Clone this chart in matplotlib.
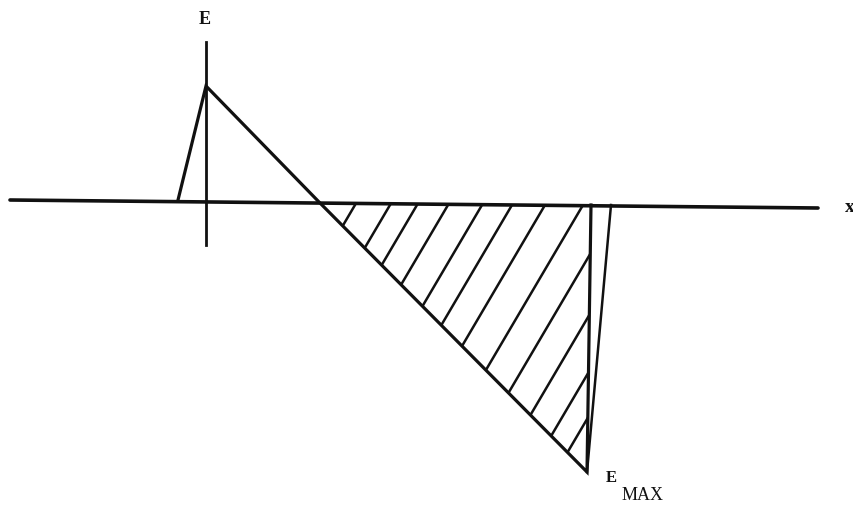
import numpy as np
import matplotlib
matplotlib.use("Agg")
import matplotlib.pyplot as plt
from matplotlib.patches import Polygon

# Diagram coordinates: x to the right, E upward, origin at the axes crossing
# horizontal (x) axis, slightly tilted as in the scan
axis_x = [-195, 613]
axis_y = [3, -5]
# vertical (E) axis
eaxis_x = [1, 1]
eaxis_y = [161, -42]

# field curve E(x)
curve_x = [-27, 1, 115, 382, 386]
curve_y = [3, 117, 0, -269, -2]
# return stroke from E_MAX back to the axis
ret_x = [382, 406]
ret_y = [-269, -2]

# hatched region (between curve and axis, from zero crossing to E_MAX)
hatch_region_x = [115, 385, 382]
hatch_region_y = [0, -2, -269]
# hatch lines: x where each line meets the axis level, and slope dE/dx
hatch_x0 = [150, 185, 212, 243, 277, 307, 340, 378, 414, 449, 482, 508]
hatch_slope = 1.7

labels = {"E": (0, 183), "x": (640, -4), "E_sub": (406, -275), "MAX": (417, -293)}

fig = plt.figure(figsize=(8.54, 5.09), dpi=100)
ax = fig.add_axes([0, 0, 1, 1])
ax.set_xlim(-205, 649)
ax.set_ylim(-306, 203)
ax.axis("off")

col = "#111111"
ax.plot(axis_x, axis_y, color=col, lw=2.6, solid_capstyle="round")
ax.plot(eaxis_x, eaxis_y, color=col, lw=2.0)
ax.plot(curve_x, curve_y, color=col, lw=2.3, solid_joinstyle="miter")
ax.plot(ret_x, ret_y, color=col, lw=1.8)

poly = Polygon(np.column_stack([hatch_region_x, hatch_region_y]), closed=True,
               fill=False, edgecolor="none")
ax.add_patch(poly)
ylo, yhi = -300, 10
for x0 in hatch_x0:
    xs = [x0 + (ylo - (-2)) / hatch_slope, x0 + (yhi - (-2)) / hatch_slope]
    ln, = ax.plot(xs, [ylo, yhi], color=col, lw=1.8)
    ln.set_clip_path(poly)

font = dict(family=["Liberation Serif", "DejaVu Serif"], color=col)
ax.text(*labels["E"], "E", ha="center", va="center", fontsize=13, fontweight="bold", **font)
ax.text(*labels["x"], "x", ha="left", va="center", fontsize=14, fontweight="bold", **font)
ax.text(*labels["E_sub"], "E", ha="center", va="center", fontsize=12, fontweight="bold", **font)
ax.text(*labels["MAX"], "MAX", ha="left", va="center", fontsize=13, **font)

fig.savefig("out.png", dpi=100, facecolor="white")
